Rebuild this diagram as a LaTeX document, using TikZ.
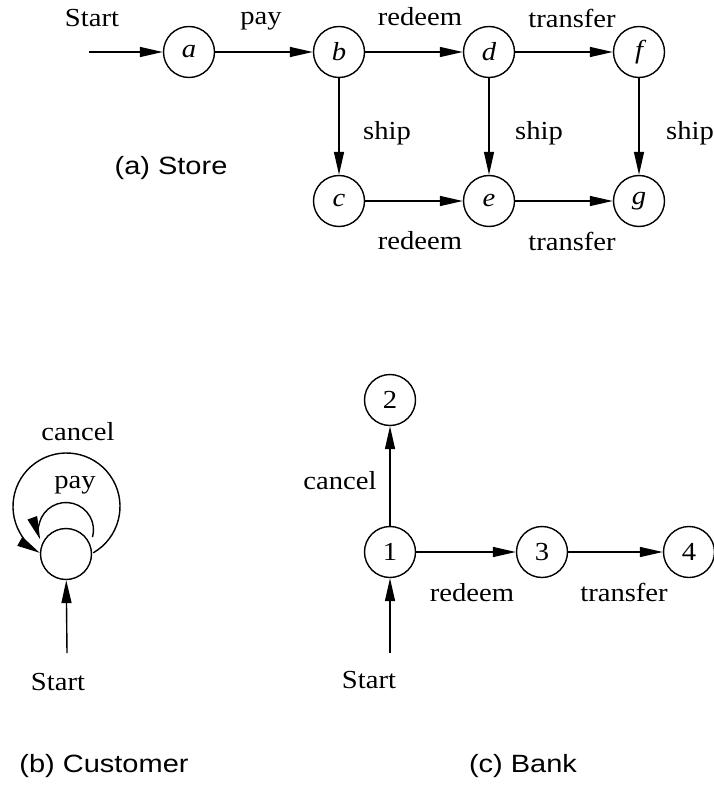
\documentclass[tikz,border=0pt]{standalone}
\usepackage{fontspec}
\setmainfont{Liberation Serif}[FakeStretch=1.1]
\setsansfont{Liberation Sans}[FakeStretch=1.16]
\usetikzlibrary{arrows.meta,calc}
\begin{document}
\begin{tikzpicture}[x=1pt,y=1pt,
  st/.style={circle,draw,line width=1.4pt,minimum size=51pt,inner sep=0pt,font=\fontsize{26}{26}\selectfont},
  lab/.style={font=\fontsize{26}{26}\selectfont,inner sep=0pt},
  capt/.style={font=\sffamily\fontsize{25}{25}\selectfont,inner sep=0pt},
  arr/.style={line width=1.4pt,-{Triangle[length=23pt,width=10pt]}},
  ]
\useasboundingbox (0,0) rectangle (713,-786);

% (a) Store
\node[st] (a) at (189,-52) {\itshape a};
\node[st] (b) at (339,-52) {\itshape b};
\node[st] (d) at (489,-52) {\itshape d};
\node[st] (f) at (639,-52) {\itshape f};
\node[st] (c) at (339,-201) {\itshape c};
\node[st] (e) at (489,-201) {\itshape e};
\node[st] (g) at (639,-201) {\itshape g};
\coordinate (sa) at (89,-52);
\draw[arr] (sa) -- (a);
\draw[arr] (a) -- (b);
\draw[arr] (b) -- (d);
\draw[arr] (d) -- (f);
\draw[arr] (b) -- (c);
\draw[arr] (d) -- (e);
\draw[arr] (f) -- (g);
\draw[arr] (c) -- (e);
\draw[arr] (e) -- (g);
\node[lab] (lsa) at (92,-18) {Start};
\node[lab] (lpay) at (261,-21) {pay};
\node[lab] (lred1) at (420,-17) {redeem};
\node[lab] (ltr1) at (572,-18) {transfer};
\node[lab] (lsh1) at (387,-133) {ship};
\node[lab] (lsh2) at (539,-133) {ship};
\node[lab] (lsh3) at (690,-133) {ship};
\node[lab] (lred2) at (420,-241) {redeem};
\node[lab] (ltr2) at (572,-241) {transfer};
\node[capt] (capa) at (171,-168) {(a) Store};

% (b) Customer
\node[st] (u) at (66,-554) {};
\coordinate (su) at (67,-653);
\draw[arr] (su) -- (u);
\coordinate (bigc) at (66.5,-506.5);
\coordinate (smc) at (66,-530);
\draw[arr] ([shift={(-60:53.5)}]bigc) arc[start angle=-60,end angle=240,radius=53.5];
\draw[arr] ([shift={(-15:27.5)}]smc) arc[start angle=-15,end angle=200,radius=27.5];
\node[lab] (lcan) at (78,-432) {cancel};
\node[lab] (lpay2) at (75,-485) {pay};
\node[lab] (lsu) at (58,-682) {Start};
\node[capt] (capb) at (104,-766) {(b) Customer};

% (c) Bank
\node[st] (n1) at (390,-552) {1};
\node[st] (n2) at (390,-400) {2};
\node[st] (n3) at (542,-552) {3};
\node[st] (n4) at (689,-552) {4};
\coordinate (s1) at (390,-653);
\draw[arr] (s1) -- (n1);
\draw[arr] (n1) -- (n2);
\draw[arr] (n1) -- (n3);
\draw[arr] (n3) -- (n4);
\node[lab] (lcan2) at (340,-481) {cancel};
\node[lab] (lred3) at (472,-593) {redeem};
\node[lab] (ltr3) at (624,-592) {transfer};
\node[lab] (ls1) at (369,-680) {Start};
\node[capt] (capc) at (523,-766) {(c) Bank};
\end{tikzpicture}
\end{document}
